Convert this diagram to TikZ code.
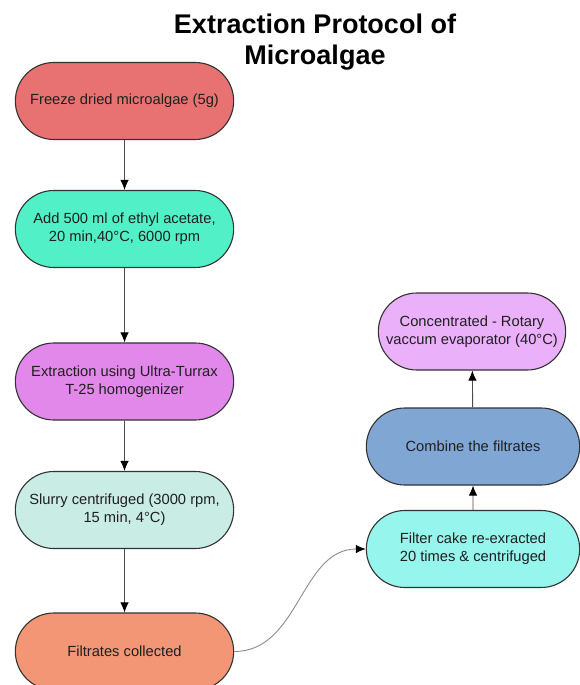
\documentclass[tikz,border=0pt]{standalone}
\usepackage{fontspec}
\setmainfont{Liberation Sans}
\usetikzlibrary{shapes.misc,arrows.meta}
\definecolor{c0}{RGB}{232,114,114}
\definecolor{c1}{RGB}{82,240,198}
\definecolor{c2}{RGB}{226,136,234}
\definecolor{c3}{RGB}{201,236,228}
\definecolor{c4}{RGB}{242,150,118}
\definecolor{c5}{RGB}{150,245,236}
\definecolor{c6}{RGB}{128,166,212}
\definecolor{c7}{RGB}{235,176,250}
\begin{document}
\begin{tikzpicture}[x=1pt,y=-1pt,
    stage/.style={rounded rectangle,draw=black!80,line width=1.1pt,
      minimum height=77pt,minimum width=225pt,align=center,text=black!88,
      font=\fontsize{14.7}{18.3}\selectfont},
    flow/.style={draw=black!70,line width=0.9pt,
      -{Latex[length=10pt,width=8.5pt,color=black]}}]
      \useasboundingbox (0,0) rectangle (580,685);
      \node[align=center,font=\bfseries\fontsize{27}{31}\selectfont] (title)
        at (315,42.5) {Extraction Protocol of\\Microalgae};
      \draw
        (124.5,101) node[stage,fill=c0] (0){Freeze dried microalgae (5g)}
        (124.5,229) node[stage,fill=c1] (1){Add 500 ml of ethyl acetate,\\20 min,40°C, 6000 rpm}
        (124.5,381.5) node[stage,fill=c2] (2){Extraction using Ultra-Turrax\\T-25 homogenizer}
        (124.5,510) node[stage,fill=c3] (3){Slurry centrifuged (3000 rpm,\\15 min, 4°C)}
        (124.5,651.5) node[stage,fill=c4] (4){Filtrates collected}
        (473,549) node[stage,fill=c5,minimum width=220pt] (5){Filter cake re-exracted\\20 times \& centrifuged}
        (473,446.5) node[stage,fill=c6,minimum width=220pt] (6){Combine the filtrates}
        (472,331.5) node[stage,fill=c7,minimum width=194pt] (7){Concentrated - Rotary\\vaccum evaporator (40°C)};
      \begin{scope}[flow]
        \draw (0) to (1);
        \draw (1) to (2);
        \draw (2) to (3);
        \draw (3) to (4);
        \draw[draw=black!45] (4) to[out=0,in=180] (5);
        \draw (5) to (6);
        \draw (6) to (7);
      \end{scope}
    \end{tikzpicture}
\end{document}
